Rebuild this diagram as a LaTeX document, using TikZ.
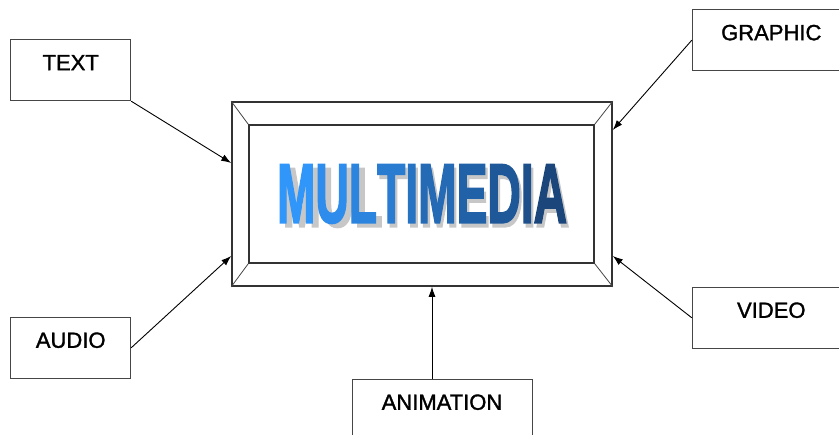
\documentclass[tikz,border=0pt]{standalone}
\usepackage{fontspec}
\setmainfont{Liberation Sans}
\newfontfamily\labelfont{Liberation Sans}[FakeBold=1.4]
\newfontfamily\bannerfont{Liberation Sans Bold}[FakeBold=2.5]
\usetikzlibrary{arrows.meta,positioning,calc}
\definecolor{mmlight}{RGB}{48,150,250}
\definecolor{mmdark}{RGB}{26,70,124}
\definecolor{edge}{RGB}{70,70,70}
\newcommand{\bannerword}{%
	\textcolor{mmdark!0!mmlight}{M}\textcolor{mmdark!11!mmlight}{U}%
	\textcolor{mmdark!22!mmlight}{L}\textcolor{mmdark!33!mmlight}{T}%
	\textcolor{mmdark!44!mmlight}{I}\textcolor{mmdark!55!mmlight}{M}%
	\textcolor{mmdark!66!mmlight}{E}\textcolor{mmdark!77!mmlight}{D}%
	\textcolor{mmdark!88!mmlight}{I}\textcolor{mmdark!100!mmlight}{A}}
\tikzset{
	block/.style = {draw=edge, line width=1pt, rectangle, inner sep=0pt, text height=30.5pt, text depth=30.5pt, font=\labelfont\fontsize{22}{22}\selectfont},
	frame/.style = {draw=black!80, line width=1.6pt, rectangle, inner sep=0pt},
	banner/.style = {inner sep=0pt, font=\bannerfont\fontsize{84}{84}\selectfont, xscale=0.55}
}

\begin{document}
\begin{tikzpicture}[x=1pt, y=-1pt, >={Latex[length=10pt,width=7pt]}]
		\useasboundingbox (0,0) rectangle (839,435);
		\clip (0,0) rectangle (839,435);
		% frame in the middle
		\node [frame, minimum width=380pt, minimum height=184pt] (core) at (422,194) {};
		\node [frame, minimum width=345pt, minimum height=138pt] (panel) at (421.5,194) {};
		\foreach \c in {north west, north east, south west, south east}
			\draw [edge, line width=0.8pt] (core.\c) -- (panel.\c);
		\node [banner, text=black!22] (bannershadow) at ([xshift=4pt,yshift=-4pt]core.center) {MULTIMEDIA};
		\node [banner] (bannertext) at (core.center) {\bannerword};
		% the five parts
		\node [block, minimum width=120pt, above left=0pt and 100pt of core] (text) {TEXT};
		\node [block, minimum width=120pt, below left=30pt and 100pt of core] (audio) {AUDIO};
		\node [block, minimum width=158pt, above right=30pt and 79pt of core] (graphic) {GRAPHIC};
		\node [block, minimum width=158pt, below right=0pt and 79pt of core] (video) {VIDEO};
		\node [block, minimum width=180pt, below=92pt of core, xshift=20pt] (animation) {ANIMATION};
		\draw [->, line width=0.9pt] (text.south east) -- ([yshift=31pt]core.west);
		\draw [->, line width=0.9pt] (audio.east) -- ([yshift=-62pt]core.west);
		\draw [->, line width=0.9pt] (graphic.west) -- ([yshift=64pt]core.east);
		\draw [->, line width=0.9pt] (video.west) -- ([yshift=-62pt]core.east);
		\draw [->, line width=0.9pt] ([xshift=-10pt]animation.north) -- ([xshift=10pt]core.south);
	    \end{tikzpicture}
\end{document}
